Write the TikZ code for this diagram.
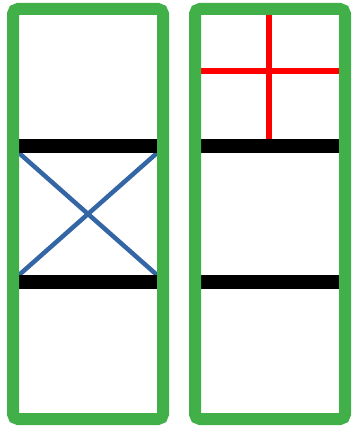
\documentclass[tikz,border=0pt]{standalone}
\usepackage{xcolor}
\usepackage{tikz}
\definecolor{mygreen}{RGB}{65,176,73}
\definecolor{myblue}{RGB}{52,101,164}
\definecolor{myred}{RGB}{255,0,0}
\tikzset{
  frame/.style={draw=mygreen, line width=12pt, rounded corners=5pt},
  beam/.style={draw=black, line width=14pt},
  brace/.style={draw=myblue, line width=4.5pt},
  cross/.style={draw=myred, line width=6pt}
}

\begin{document}
\begin{tikzpicture}[x=1pt, y=-1pt]
  \useasboundingbox (0,0) rectangle (354,427);

  % Left panel (braced)
  \coordinate (la) at (19,153);
  \coordinate (lb) at (157,153);
  \coordinate (lc) at (19,275);
  \coordinate (ld) at (157,275);
  \draw[brace] (la) -- (ld);
  \draw[brace] (lb) -- (lc);
  \draw[beam] (19,146) -- (157,146);
  \draw[beam] (19,282) -- (157,282);
  \draw[frame] (13,9) rectangle (163,419);

  % Right panel (cross on top)
  \coordinate (rt) at (269,15);
  \coordinate (rb) at (269,139);
  \coordinate (rl) at (201,71);
  \coordinate (rr) at (339,71);
  \draw[cross] (rt) -- (rb);
  \draw[cross] (rl) -- (rr);
  \draw[beam] (201,146) -- (339,146);
  \draw[beam] (201,282) -- (339,282);
  \draw[frame] (195,9) rectangle (345,419);
\end{tikzpicture}
\end{document}
